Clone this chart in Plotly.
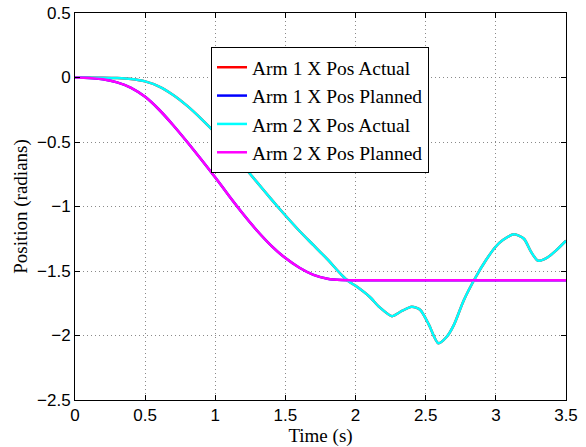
import plotly.graph_objects as go

# Time samples and positions
t_actual = [0, 0.2, 0.3, 0.4, 0.5, 0.6, 0.7, 0.8, 0.9, 1.0, 1.1, 1.2, 1.3, 1.4, 1.5, 1.6,
            1.7, 1.8, 1.9, 1.95, 2.0, 2.1, 2.17, 2.26, 2.33, 2.4, 2.46, 2.52, 2.59,
            2.65, 2.7, 2.77, 2.85, 2.93, 3.0, 3.05, 3.13, 3.2, 3.25, 3.3, 3.36, 3.43, 3.5]
pos_actual = [0, -0.001, -0.004, -0.012, -0.03, -0.07, -0.135, -0.22, -0.32, -0.43, -0.555,
              -0.685, -0.815, -0.945, -1.07, -1.19, -1.30, -1.41, -1.53, -1.58, -1.615,
              -1.70, -1.78, -1.85, -1.81, -1.777, -1.80, -1.91, -2.06, -2.01, -1.92,
              -1.73, -1.56, -1.415, -1.31, -1.26, -1.216, -1.25, -1.35, -1.42, -1.40,
              -1.34, -1.265]

t_planned = [0, 0.1, 0.2, 0.3, 0.4, 0.5, 0.6, 0.7, 0.8, 0.9, 1.0, 1.1, 1.2, 1.3, 1.4,
             1.5, 1.6, 1.7, 1.8, 1.9, 2.0, 2.5, 3.0, 3.5]
pos_planned = [0, -0.003, -0.014, -0.038, -0.08, -0.15, -0.25, -0.37, -0.50, -0.635,
               -0.775, -0.92, -1.06, -1.19, -1.305, -1.40, -1.475, -1.53, -1.56, -1.57,
               -1.5708, -1.5708, -1.5708, -1.5708]

series_names = ["Arm 1 X Pos Actual", "Arm 1 X Pos Planned",
                "Arm 2 X Pos Actual", "Arm 2 X Pos Planned"]
series_colors = ["#ff0000", "#0000ff", "#00ffff", "#ff00ff"]
series_x = [t_actual, t_planned, t_actual, t_planned]
series_y = [pos_actual, pos_planned, pos_actual, pos_planned]

x_ticks = [0, 0.5, 1, 1.5, 2, 2.5, 3, 3.5]
y_ticks = [-2.5, -2, -1.5, -1, -0.5, 0, 0.5]

fig = go.Figure()
for nm, col, xs, ys in zip(series_names, series_colors, series_x, series_y):
    fig.add_trace(go.Scatter(x=xs, y=ys, mode="lines", name=nm,
                             line=dict(color=col, width=2.5, shape="spline", smoothing=0.7)))

axis_common = dict(showline=True, linecolor="black", linewidth=1, mirror="allticks",
                    ticks="inside", ticklen=5, tickcolor="black",
                    showgrid=True, gridcolor="#8a8a8a", gridwidth=1, griddash="1px,3px",
                    zeroline=False, automargin=False,
                    tickfont=dict(family="Liberation Sans, Arial", size=17, color="black"))

fig.update_xaxes(range=[0, 3.5], tickvals=x_ticks, ticktext=[f"{v:g}" for v in x_ticks],
                 title=dict(text="Time (s)", standoff=0,
                            font=dict(family="Liberation Serif, Times New Roman", size=19, color="black")),
                 **axis_common)
fig.update_yaxes(range=[-2.5, 0.5], tickvals=y_ticks,
                 ticktext=[f"{v:g}".replace("-", "\u2212") for v in y_ticks],
                 title=dict(text="Position (radians)", standoff=4,
                            font=dict(family="Liberation Serif, Times New Roman", size=19, color="black")),
                 **axis_common)

fig.update_layout(
    width=586, height=447,
    margin=dict(l=75, r=20, t=13, b=47, autoexpand=False),
    plot_bgcolor="white", paper_bgcolor="white",
    legend=dict(x=0.277, y=0.912, xanchor="left", yanchor="top",
                bgcolor="white", bordercolor="black", borderwidth=1,
                font=dict(family="Liberation Serif, Times New Roman", size=19.5, color="black"),
                itemwidth=30),
    showlegend=True,
)

fig.write_html("out.html", config={"displayModeBar": False},
               post_script="document.body.style.margin='0';document.body.style.padding='0';")
